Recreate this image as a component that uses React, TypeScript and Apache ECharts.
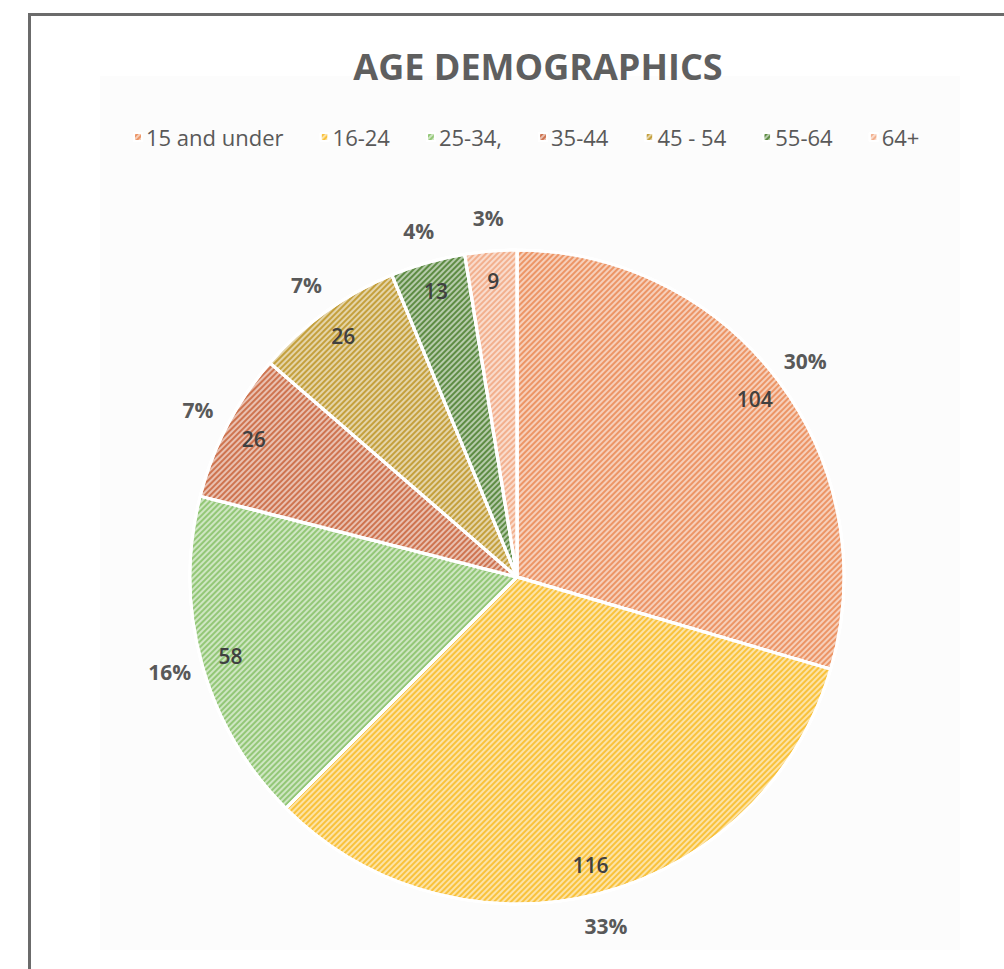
import React, { useEffect, useRef } from "react";
import * as echarts from "echarts";

const categories = ["15 and under", "16-24", "25-34,", "35-44", "45 - 54", "55-64", "64+"];
const values = [104, 116, 58, 26, 26, 13, 9];
const colors = ["#EC9566", "#F9C23C", "#93C777", "#CE7450", "#C4A03D", "#5E8C44", "#F2B08E"];
const titleText = "AGE DEMOGRAPHICS";

export default function App() {
  const ref = useRef<HTMLDivElement>(null);
  useEffect(() => {
    const chart = echarts.init(ref.current!, null, { renderer: "svg" });
    const decal = {
      symbol: "rect",
      symbolSize: 1,
      dashArrayX: [[1, 0]],
      dashArrayY: [2, 2],
      rotation: -Math.PI / 4,
      color: "rgba(255,255,255,0.55)",
    };
    const data = categories.map((name, i) => ({
      name,
      value: values[i],
      itemStyle: { color: colors[i], decal },
    }));
    const center = [517, 577];
    const labelBase = {
      type: "pie" as const,
      center,
      silent: true,
      startAngle: 90,
      clockwise: true,
      itemStyle: { color: "transparent", borderWidth: 0 },
      labelLine: { show: false },
      emphasis: { disabled: true },
      legendHoverLink: false,
      tooltip: { show: false },
    };
    const font = "'Open Sans'";
    chart.setOption({
      animation: false,
      textStyle: { fontFamily: font },
      title: {
        text: titleText,
        left: 533,
        textAlign: "center",
        top: 43,
        textStyle: { fontSize: 36, fontWeight: "bold", color: "#5f5f5f", fontFamily: font },
      },
      legend: {
        data: categories,
        top: 126,
        left: 133,
        padding: 0,
        itemWidth: 8,
        itemHeight: 8,
        icon: "rect",
        itemGap: 36,
        textStyle: { fontSize: 22, color: "#595959", fontFamily: font, padding: [0, 0, 0, -1] },
      },
      graphic: [
        {
          type: "rect",
          shape: { x: 100, y: 76, width: 860, height: 874 },
          style: { fill: "#fcfcfc" },
          z: -10,
        },
        {
          type: "rect",
          shape: { x: 29.5, y: 14.5, width: 1000, height: 1000 },
          style: { fill: "none", stroke: "#6b6b6b", lineWidth: 3 },
          z: 10,
        },
      ],
      series: [
        {
          type: "pie",
          name: "main",
          center,
          radius: [0, 327],
          startAngle: 90,
          clockwise: true,
          data,
          itemStyle: { borderColor: "#ffffff", borderWidth: 3 },
          label: { show: false },
          labelLine: { show: false },
          emphasis: { disabled: true },
        },
        {
          ...labelBase,
          name: "values",
          radius: [275, 313],
          data: categories.map((name, i) => ({ name, value: values[i] })),
          label: {
            show: true,
            position: "inside",
            rotate: 0,
            formatter: (p: any) => String(p.value),
            fontSize: 21,
            fontWeight: 600,
            color: "#404040",
            fontFamily: font,
          },
        },
        {
          ...labelBase,
          name: "percents",
          radius: [337, 377],
          data: categories.map((name, i) => ({ name, value: values[i] })),
          label: {
            show: true,
            position: "inside",
            rotate: 0,
            formatter: (p: any) => Math.round(p.percent) + "%",
            fontSize: 21,
            fontWeight: "bold",
            color: "#595959",
            fontFamily: font,
          },
        },
      ],
    });
    return () => chart.dispose();
  }, []);
  return (
    <div
      ref={ref}
      style={{ position: "absolute", left: 0, top: 0, width: 1004, height: 969, background: "#ffffff" }}
    />
  );
}
